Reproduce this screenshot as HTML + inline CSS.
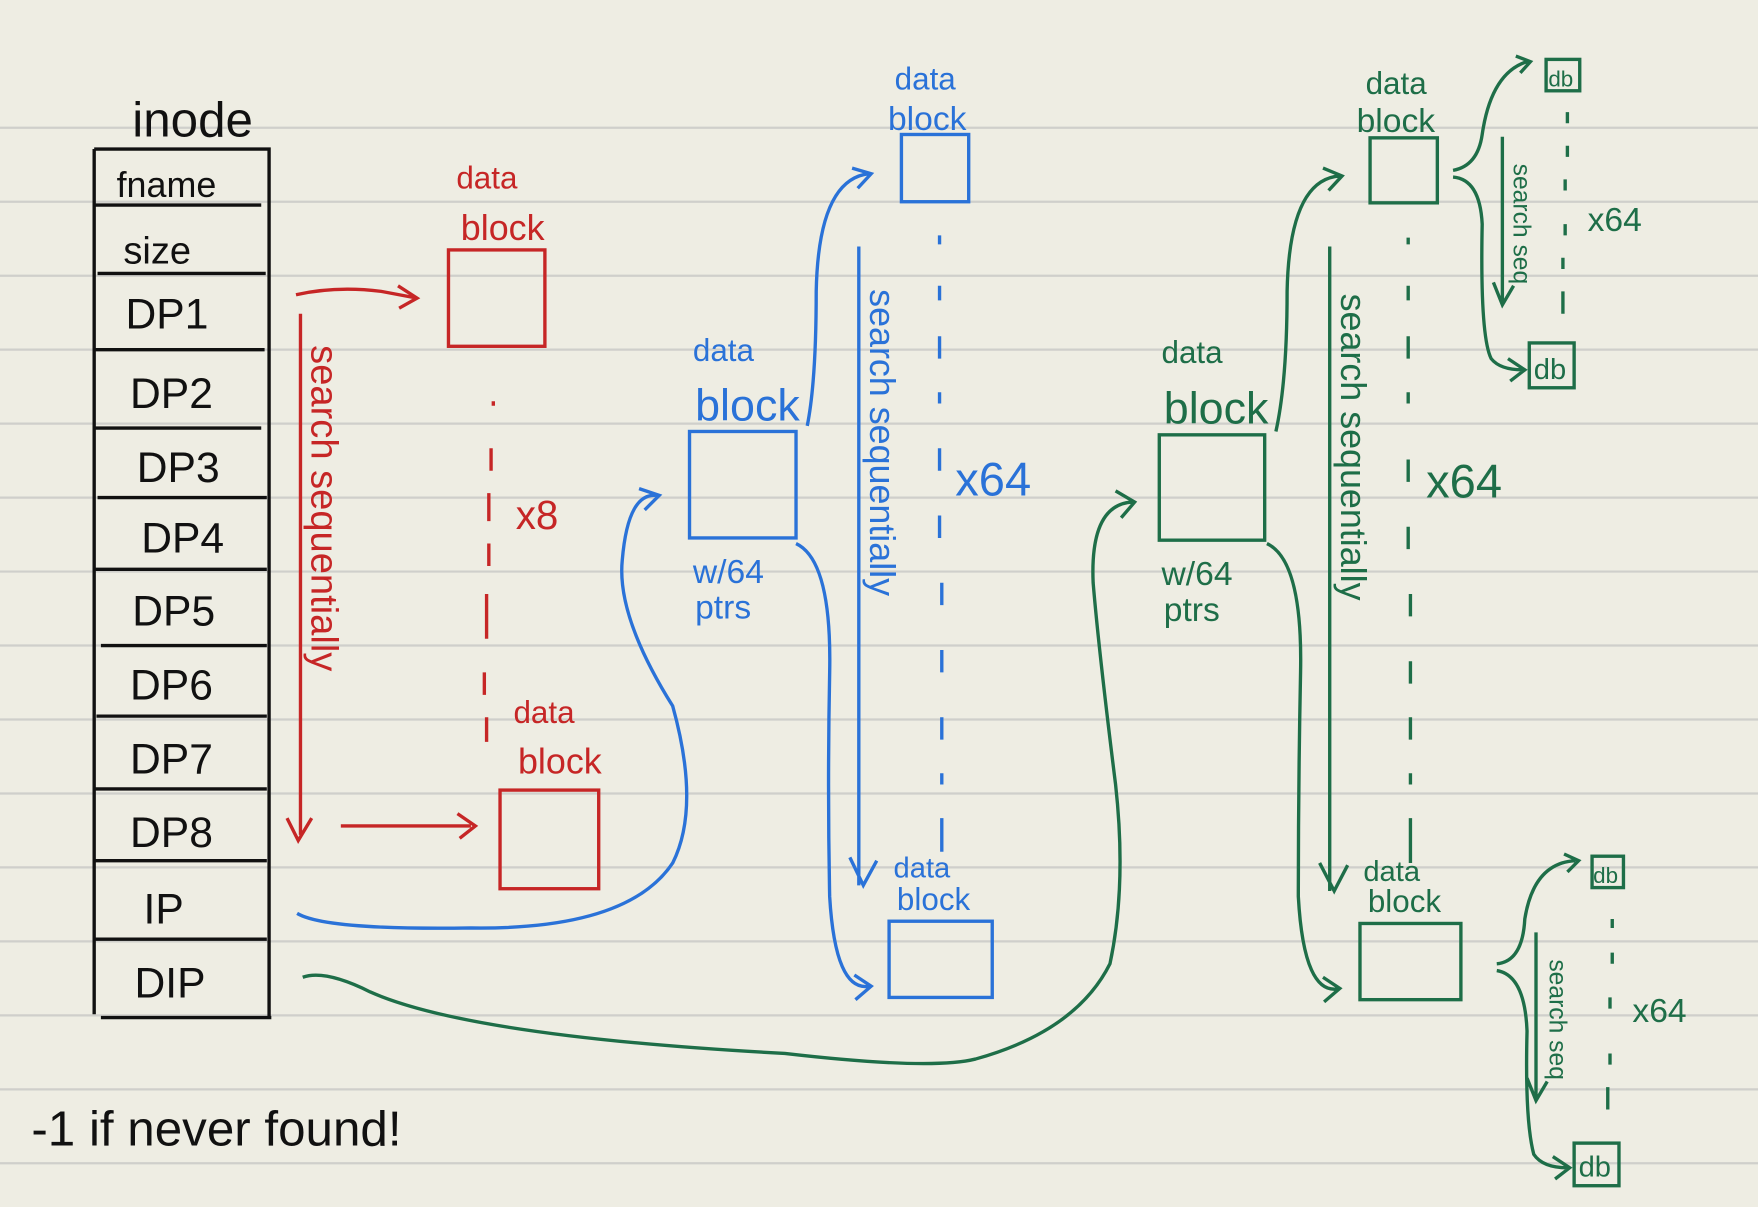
<!DOCTYPE html>
<html><head><style>
html,body{margin:0;padding:0;background:#eeede3;}
svg{display:block}
text{font-family:"Liberation Sans",sans-serif;}
</style></head><body>
<svg width="1758" height="1207" viewBox="0 0 1568 1077" preserveAspectRatio="none" xmlns="http://www.w3.org/2000/svg">
<rect width="1568" height="1077" fill="#eeede3"/>
<g stroke="#cfcfcb" stroke-width="2">
<line x1="0" y1="114" x2="1568" y2="114"/><line x1="0" y1="180" x2="1568" y2="180"/><line x1="0" y1="246" x2="1568" y2="246"/><line x1="0" y1="312" x2="1568" y2="312"/><line x1="0" y1="378" x2="1568" y2="378"/><line x1="0" y1="444" x2="1568" y2="444"/><line x1="0" y1="510" x2="1568" y2="510"/><line x1="0" y1="576" x2="1568" y2="576"/><line x1="0" y1="642" x2="1568" y2="642"/><line x1="0" y1="708" x2="1568" y2="708"/><line x1="0" y1="774" x2="1568" y2="774"/><line x1="0" y1="840" x2="1568" y2="840"/><line x1="0" y1="906" x2="1568" y2="906"/><line x1="0" y1="972" x2="1568" y2="972"/><line x1="0" y1="1038" x2="1568" y2="1038"/>
</g>
<!-- inode -->
<g stroke="#111" stroke-width="3" fill="none">
<path d="M84 133 H240 V908 M84 133 V905"/>
<line x1="84" y1="183" x2="233" y2="183"/><line x1="87" y1="244" x2="237" y2="244"/><line x1="84" y1="312" x2="236" y2="312"/><line x1="84" y1="382" x2="233" y2="382"/><line x1="87" y1="444" x2="238" y2="444"/><line x1="84" y1="508" x2="238" y2="508"/><line x1="90" y1="576" x2="238" y2="576"/><line x1="86" y1="639" x2="238" y2="639"/><line x1="84" y1="704" x2="238" y2="704"/><line x1="84" y1="768" x2="238" y2="768"/><line x1="84" y1="838" x2="238" y2="838"/><line x1="90" y1="908" x2="242" y2="908"/>
</g>
<g fill="#111" font-size="38">
<text x="118" y="122" font-size="44">inode</text>
<text x="104" y="176" font-size="32">fname</text>
<text x="110" y="235" font-size="34">size</text>
<text x="112" y="293">DP1</text><text x="116" y="364">DP2</text><text x="122" y="430">DP3</text><text x="126" y="493">DP4</text><text x="118" y="558">DP5</text><text x="116" y="624">DP6</text><text x="116" y="690">DP7</text><text x="116" y="756">DP8</text><text x="128" y="824">IP</text><text x="120" y="890">DIP</text>
<text x="28" y="1022" font-size="44">-1  if never found!</text>
</g>
<!-- red -->
<g stroke="#c62626" stroke-width="3" fill="none">
<path d="M264 263 Q300 255 340 260 L372 266 M355 255 L372 266 L356 275"/>
<path d="M268 280 V745 M256 730 L266 750 L278 730"/>
<path d="M304 737 L420 737 M408 726 L424 737 L410 748"/>
<rect x="400" y="223" width="86" height="86"/>
<rect x="446" y="705" width="88" height="88"/>
<path d="M440 358 V362 M438 400 V420 M436 440 V465 M436 485 V505 M434 530 V570 M432 600 V620 M434 640 V662" />
</g>
<g fill="#c62626">
<text x="407" y="168" font-size="28">data</text><text x="411" y="214" font-size="32">block</text>
<text x="458" y="645" font-size="28">data</text><text x="462" y="690" font-size="32">block</text>
<text x="460" y="472" font-size="36">x8</text>
<text transform="translate(278,308) rotate(90)" font-size="34">search sequentially</text>
</g>
<!-- blue -->
<g stroke="#2a72d8" stroke-width="3" fill="none">
<rect x="615" y="385" width="95" height="95"/>
<rect x="804" y="120" width="60" height="60"/>
<rect x="793" y="822" width="92" height="68"/>
<path d="M265 815 Q290 830 420 828 Q560 830 600 770 Q625 720 600 630 Q550 550 555 500 Q560 440 585 442 M570 436 L588 442 L575 455"/>
<path d="M720 380 Q728 340 728 260 Q730 160 775 155 M760 150 L777 155 L765 168"/>
<path d="M710 485 Q742 500 740 600 Q738 700 740 800 Q745 885 775 880 M762 870 L777 880 L763 892"/>
<path d="M766 220 V790 M758 765 L770 790 L782 768"/>
<path d="M838 210 V218 M838 255 V268 M838 300 V320 M838 350 V360 M838 400 V420 M838 460 V480 M840 520 V540 M840 580 V600 M840 640 V660 M840 690 V700 M840 730 V760"/>
</g>
<g fill="#2a72d8">
<text x="798" y="80" font-size="28">data</text><text x="792" y="116" font-size="30">block</text>
<text x="618" y="322" font-size="28">data</text><text x="620" y="375" font-size="40">block</text>
<text x="618" y="520" font-size="30">w/64</text><text x="620" y="552" font-size="30">ptrs</text>
<text x="852" y="442" font-size="42">x64</text>
<text x="797" y="783" font-size="26">data</text><text x="800" y="812" font-size="28">block</text>
<text transform="translate(776,258) rotate(90)" font-size="32">search sequentially</text>
</g>
<!-- green -->
<g stroke="#1e6e48" stroke-width="3" fill="none">
<rect x="1034" y="388" width="94" height="94"/>
<rect x="1222" y="123" width="60" height="58"/>
<rect x="1213" y="824" width="90" height="68"/>
<rect x="1379" y="53" width="30" height="28"/>
<rect x="1364" y="306" width="40" height="40"/>
<rect x="1420" y="764" width="28" height="28"/>
<rect x="1404" y="1020" width="40" height="38"/>
<path d="M270 872 Q290 865 330 885 Q420 925 700 940 Q830 955 870 945 Q960 920 990 860 Q1005 790 995 700 Q980 580 975 520 Q972 450 1010 448 M995 438 L1012 448 L1000 462"/>
<path d="M1138 385 Q1148 340 1148 260 Q1150 160 1195 157 M1180 150 L1197 157 L1185 170"/>
<path d="M1130 485 Q1162 500 1160 600 Q1158 700 1158 800 Q1163 890 1195 882 M1180 872 L1195 882 L1181 894"/>
<path d="M1186 220 V795 M1177 770 L1190 795 L1202 772"/>
<path d="M1256 212 V218 M1256 255 V268 M1256 300 V320 M1256 350 V360 M1256 410 V430 M1256 470 V490 M1258 530 V550 M1258 590 V610 M1258 640 V660 M1258 690 V700 M1258 730 V770"/>
<path d="M1296 152 Q1318 148 1322 120 Q1330 65 1362 55 M1352 50 L1365 55 L1356 65"/>
<path d="M1296 158 Q1320 160 1322 200 Q1320 300 1330 320 Q1338 330 1358 330 M1345 320 L1360 330 L1347 340"/>
<path d="M1340 122 V270 M1332 252 L1340 272 L1350 255"/>
<path d="M1398 100 V110 M1398 130 V140 M1396 160 V170 M1396 200 V210 M1394 230 V240 M1394 260 V280"/>
<path d="M1335 860 Q1358 858 1360 820 Q1368 770 1405 768 M1395 762 L1408 768 L1398 778"/>
<path d="M1335 866 Q1360 870 1362 920 Q1360 1000 1368 1030 Q1376 1042 1398 1042 M1385 1032 L1400 1042 L1387 1052"/>
<path d="M1370 832 V980 M1362 962 L1370 982 L1380 965"/>
<path d="M1438 820 V828 M1438 850 V860 M1436 890 V900 M1436 940 V950 M1434 970 V990"/>
</g>
<g fill="#1e6e48">
<text x="1218" y="84" font-size="28">data</text><text x="1210" y="118" font-size="30">block</text>
<text x="1036" y="324" font-size="28">data</text><text x="1038" y="378" font-size="40">block</text>
<text x="1036" y="522" font-size="30">w/64</text><text x="1038" y="554" font-size="30">ptrs</text>
<text x="1272" y="444" font-size="42">x64</text>
<text x="1216" y="786" font-size="26">data</text><text x="1220" y="814" font-size="28">block</text>
<text x="1416" y="206" font-size="30">x64</text><text x="1456" y="912" font-size="30">x64</text>
<text x="1381" y="77" font-size="20">db</text><text x="1368" y="338" font-size="26">db</text>
<text x="1421" y="788" font-size="20">db</text><text x="1408" y="1050" font-size="26">db</text>
<text transform="translate(1196,262) rotate(90)" font-size="32">search sequentially</text>
<text transform="translate(1350,146) rotate(90)" font-size="22">search seq</text>
<text transform="translate(1382,856) rotate(90)" font-size="22">search seq</text>
</g>
</svg>
</body></html>
